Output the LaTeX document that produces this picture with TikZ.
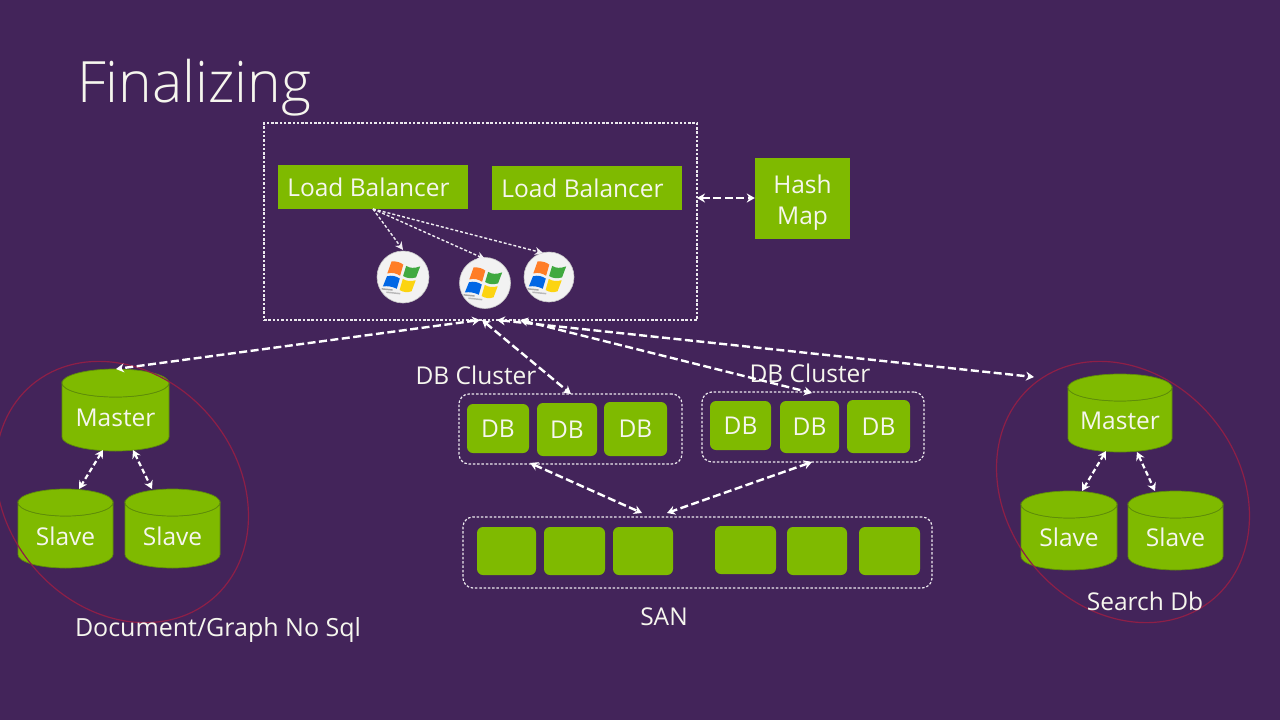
\documentclass[tikz,border=0pt]{standalone}
\usepackage{fontspec}
\setmainfont{Open Sans}
\newfontfamily\titlefont{Open Sans Light}
\usetikzlibrary{arrows.meta,shapes.geometric}
\definecolor{bgpurple}{HTML}{43245A}
\definecolor{boxgreen}{HTML}{7FBA00}
\definecolor{edgegreen}{HTML}{5E8C0A}
\definecolor{ringred}{HTML}{8E1F47}
\definecolor{inktext}{HTML}{F6F6EE}
\tikzset{
  x=1pt,y=-1pt,
  flatbox/.style={fill=boxgreen,draw=none,inner sep=0pt,text=inktext,font=\fontsize{24.5}{31}\selectfont,align=center},
  dbbox/.style={flatbox,rounded corners=6pt},
  groupbox/.style={draw=white!90!bgpurple,line width=1.2pt,rounded corners=10pt,dash pattern=on 2.5pt off 1.8pt},
  plainlabel/.style={text=inktext,inner sep=0pt,font=\fontsize{24.5}{31}\selectfont},
  thinlink/.style={draw=white!92!bgpurple,line width=1.4pt,dash pattern=on 3pt off 2pt,-{Stealth[length=8pt,width=8pt]}},
  thicklink/.style={draw=white,line width=2.4pt,dash pattern=on 8pt off 3.5pt,{Stealth[length=8pt,width=9pt]}-{Stealth[length=8pt,width=9pt]}},
  shortlink/.style={thicklink,line width=2.2pt,dash pattern=on 5pt off 3pt},
  ring/.style={draw=ringred,line width=1.2pt},
}
% box from corners: name, x1, y1, x2, y2, style, text
\newcommand{\rbox}[7]{\node[#6,minimum width=#4pt-#2pt,minimum height=#5pt-#3pt] (#1) at ({(#2+#4)/2},{(#3+#5)/2}) {#7};}
% cylinder: name, x1, x2, ytop, ylidbottom, ybottom, text y, text
\newcommand{\cyl}[8]{%
  \path[fill=boxgreen,draw=edgegreen,line width=.7pt]
    (#2,{#4+(#5-#4)/2}) arc[start angle=180,end angle=360,x radius={(#3-#2)/2},y radius={(#4-#5)/2}]
    -- (#3,{#6-(#5-#4)/2}) arc[start angle=0,end angle=-180,x radius={(#3-#2)/2},y radius={(#4-#5)/2}] -- cycle;
  \path[fill=boxgreen,draw=edgegreen,line width=.7pt]
    ({(#2+#3)/2},{(#4+#5)/2}) ellipse[x radius={(#3-#2)/2},y radius={(#5-#4)/2}];
  \node[plainlabel] (#1) at ({(#2+#3)/2},#7) {#8};}
% windows badge: name, x, y, radius
\newcommand{\winbadge}[4]{%
  \node[circle,fill=white!95!black,draw=white!78!black,line width=.6pt,minimum size=2*#4 pt,inner sep=0pt] (#1) at (#2,#3) {};
  \begin{scope}[shift={(#2,#3)},rotate=-6,yscale=.95]
    \fill[orange!80!red!85] (-13,-15) .. controls (-8,-16) and (-4,-15) .. (-1,-13) -- (-3,-1) .. controls (-7,-3) and (-11,-4) .. (-16,-2) -- cycle;
    \fill[green!55!black!75] (2,-12) .. controls (6,-10) and (10,-10) .. (16,-13) -- (13,-1) .. controls (8,1) and (4,1) .. (0,-1) -- cycle;
    \fill[blue!55!cyan!90!black] (-16,1) .. controls (-11,-1) and (-7,0) .. (-3,2) -- (-5,13) .. controls (-10,11) and (-14,11) .. (-19,12) -- cycle;
    \fill[yellow!70!orange!95] (0,2) .. controls (4,4) and (8,4) .. (13,2) -- (10,14) .. controls (6,16) and (2,16) .. (-2,14) -- cycle;
    \fill[gray!70] (-20,14) rectangle (-9,15.5);
    \fill[gray!55] (-15,17) rectangle (-1,18.5);
  \end{scope}}
\begin{document}
\begin{tikzpicture}
\useasboundingbox (0,0) rectangle (1280,720);
\fill[bgpurple] (0,0) rectangle (1280,720);

\node[anchor=base west,text=inktext,inner sep=0pt,font=\titlefont\fontsize{57}{62}\selectfont] (title) at (77,102) {Finalizing};

% top group
\rbox{lbgroup}{264}{123}{697}{320}{groupbox,rounded corners=0pt}{}
\rbox{lbone}{278}{165}{468}{209}{flatbox}{\hspace*{-9pt}Load Balancer}
\rbox{lbtwo}{492}{166}{682}{210}{flatbox}{\hspace*{-9pt}Load Balancer}
\rbox{hashmap}{755}{158}{850}{239}{flatbox}{\rule{0pt}{26pt}Hash\\Map}
\winbadge{winone}{403}{277}{26}
\winbadge{wintwo}{485}{283}{25.5}
\winbadge{winthree}{549}{277}{25}

% left db group
\cyl{mleft}{62}{169}{369}{397}{451}{418}{Master}
\cyl{sleftone}{18}{113}{489}{516}{568}{536}{Slave}
\cyl{slefttwo}{125}{220}{489}{516}{568}{536}{Slave}
% right db group
\cyl{mright}{1068}{1172}{374}{401}{452}{421}{Master}
\cyl{srightone}{1021}{1117}{491}{518}{570}{537}{Slave}
\cyl{srighttwo}{1128}{1223}{491}{518}{570}{537}{Slave}

% rings
\draw[ring] (122,492) ellipse[x radius=140,y radius=116,rotate=-50];
\draw[ring] (1123,492) ellipse[x radius=140,y radius=116,rotate=-50];

% clusters
\rbox{clusterone}{459}{394}{682}{464}{groupbox}{}
\rbox{clustertwo}{702}{392}{924}{462}{groupbox}{}
\rbox{dba}{467}{404}{529}{453}{dbbox}{DB}
\rbox{dbb}{537}{403}{597}{456}{dbbox}{DB}
\rbox{dbc}{604}{402}{667}{456}{dbbox}{DB}
\rbox{dbd}{710}{401}{771}{450}{dbbox}{DB}
\rbox{dbe}{780}{401}{839}{453}{dbbox}{DB}
\rbox{dbf}{847}{400}{910}{453}{dbbox}{DB}

% SAN
\rbox{sangroup}{463}{517}{932}{588}{groupbox}{}
\rbox{sana}{477}{527}{536}{575}{dbbox}{}
\rbox{sanb}{544}{527}{605}{575}{dbbox}{}
\rbox{sanc}{613}{527}{673}{575}{dbbox}{}
\rbox{sand}{715}{526}{776}{574}{dbbox}{}
\rbox{sane}{787}{527}{847}{575}{dbbox}{}
\rbox{sanf}{859}{527}{920}{575}{dbbox}{}

% labels
\node[plainlabel] (lclusterone) at (476,375) {DB Cluster};
\node[plainlabel] (lclustertwo) at (810,373) {DB Cluster};
\node[plainlabel,font=\fontsize{25}{31}\selectfont] (ldoc) at (218,630) {Document/Graph No Sql};
\node[plainlabel] (lsan) at (664,617) {SAN};
\node[plainlabel] (lsearch) at (1145,601) {Search Db};

% connector ends
\coordinate (lbfoot) at (373,209);
\coordinate (winonetop) at (403,250);
\coordinate (wintwotop) at (485,259);
\coordinate (winthreetop) at (543,253);
\coordinate (gbA) at (480,320);
\coordinate (gbB) at (482,320);
\coordinate (gbC) at (520,320);
\coordinate (gbD) at (497,320);
\coordinate (mltop) at (116,369);
\coordinate (cotop) at (571,394);
\coordinate (cttop) at (812,393);
\coordinate (mrend) at (1034,377);
\coordinate (cobot) at (530,463);
\coordinate (ctbot) at (812,462);
\coordinate (santopa) at (642,513);
\coordinate (santopb) at (667,513);
\coordinate (gbE) at (697,198);
\coordinate (mla) at (103,450);
\coordinate (sla) at (79,489);
\coordinate (mlb) at (133,450);
\coordinate (slb) at (152,489);
\coordinate (mra) at (1106,451);
\coordinate (sra) at (1082,491);
\coordinate (mrb) at (1137,452);
\coordinate (srb) at (1155,491);

\draw[thinlink] (lbfoot) -- (winonetop);
\draw[thinlink] (lbfoot) -- (wintwotop);
\draw[thinlink] (lbfoot) -- (winthreetop);
\draw[thicklink] (gbE) -- (hashmap.west |- gbE);
\draw[thicklink] (gbA) -- (mltop);
\draw[thicklink] (gbB) -- (cotop);
\draw[thicklink] (gbC) -- (cttop);
\draw[thicklink] (gbD) -- (mrend);
\draw[thicklink] (cobot) -- (santopa);
\draw[thicklink] (ctbot) -- (santopb);
\draw[shortlink] (mla) -- (sla);
\draw[shortlink] (mlb) -- (slb);
\draw[shortlink] (mra) -- (sra);
\draw[shortlink] (mrb) -- (srb);
\end{tikzpicture}
\end{document}
